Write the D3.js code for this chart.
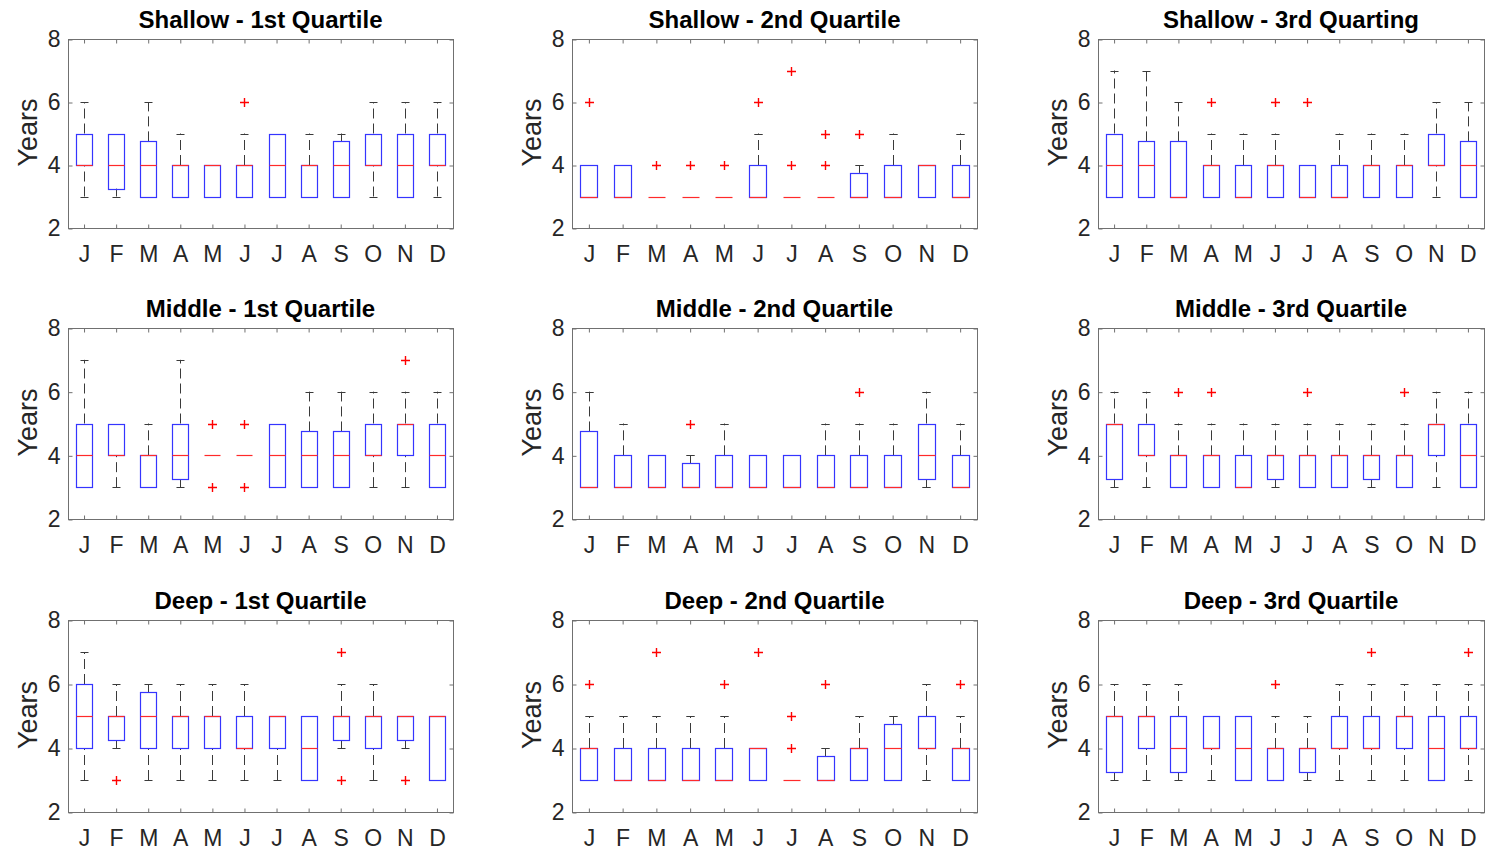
<!DOCTYPE html>
<html>
<head>
<meta charset="utf-8">
<script src="https://cdn.jsdelivr.net/npm/d3@7"></script>
<style>
  html, body { margin: 0; padding: 0; background: #ffffff; }
  svg { display: block; }
  text { font-family: "Liberation Sans", Arial, Helvetica, sans-serif; }
</style>
</head>
<body>
<svg id="chart" width="1486" height="858"></svg>
<script>
// ---------------- DATA ----------------
const monthLabels = ["J","F","M","A","M","J","J","A","S","O","N","D"];
const yTicks = [2, 4, 6, 8];
const panelTitles = [
  "Shallow - 1st Quartile", "Shallow - 2nd Quartile", "Shallow - 3rd Quarting",
  "Middle - 1st Quartile",  "Middle - 2nd Quartile",  "Middle - 3rd Quartile",
  "Deep - 1st Quartile",    "Deep - 2nd Quartile",    "Deep - 3rd Quartile"
];
// each month: [lower whisker, q1, median, q3, upper whisker]
const shallowQ1Stats = [[3,4,4,5,6],[3,3.25,4,5,5],[3,3,4,4.75,6],[3,3,4,4,5],[3,3,4,4,4],[3,3,4,4,5],[3,3,4,5,5],[3,3,4,4,5],[3,3,4,4.75,5],[3,4,4,5,6],[3,3,4,5,6],[3,4,4,5,6]];
const shallowQ1Outliers = [[],[],[],[],[],[6],[],[],[],[],[],[]];
const shallowQ2Stats = [[3,3,3,4,4],[3,3,3,4,4],[3,3,3,3,3],[3,3,3,3,3],[3,3,3,3,3],[3,3,3,4,5],[3,3,3,3,3],[3,3,3,3,3],[3,3,3,3.75,4],[3,3,3,4,5],[3,3,4,4,4],[3,3,3,4,5]];
const shallowQ2Outliers = [[6],[],[4],[4],[4],[6],[4,7],[4,5],[5],[],[],[]];
const shallowQ3Stats = [[3,3,4,5,7],[3,3,4,4.75,7],[3,3,3,4.75,6],[3,3,4,4,5],[3,3,3,4,5],[3,3,4,4,5],[3,3,3,4,4],[3,3,3,4,5],[3,3,4,4,5],[3,3,4,4,5],[3,4,4,5,6],[3,3,4,4.75,6]];
const shallowQ3Outliers = [[],[],[],[6],[],[6],[6],[],[],[],[],[]];
const middleQ1Stats = [[3,3,4,5,7],[3,4,4,5,5],[3,3,4,4,5],[3,3.25,4,5,7],[4,4,4,4,4],[4,4,4,4,4],[3,3,4,5,5],[3,3,4,4.75,6],[3,3,4,4.75,6],[3,4,4,5,6],[3,4,5,5,6],[3,3,4,5,6]];
const middleQ1Outliers = [[],[],[],[],[3,5],[3,5],[],[],[],[],[7],[]];
const middleQ2Stats = [[3,3,3,4.75,6],[3,3,3,4,5],[3,3,3,4,4],[3,3,3,3.75,4],[3,3,3,4,5],[3,3,3,4,4],[3,3,3,4,4],[3,3,3,4,5],[3,3,3,4,5],[3,3,3,4,5],[3,3.25,4,5,6],[3,3,3,4,5]];
const middleQ2Outliers = [[],[],[],[5],[],[],[],[],[6],[],[],[]];
const middleQ3Stats = [[3,3.25,5,5,6],[3,4,4,5,6],[3,3,4,4,5],[3,3,4,4,5],[3,3,3,4,5],[3,3.25,4,4,5],[3,3,4,4,5],[3,3,4,4,5],[3,3.25,4,4,5],[3,3,4,4,5],[3,4,5,5,6],[3,3,4,5,6]];
const middleQ3Outliers = [[],[],[6],[6],[],[],[6],[],[],[6],[],[]];
const deepQ1Stats = [[3,4,5,6,7],[4,4.25,5,5,6],[3,4,5,5.75,6],[3,4,5,5,6],[3,4,5,5,6],[3,4,4,5,6],[3,4,5,5,5],[3,3,4,5,5],[4,4.25,5,5,6],[3,4,5,5,6],[4,4.25,5,5,5],[3,3,5,5,5]];
const deepQ1Outliers = [[],[3],[],[],[],[],[],[],[3,7],[],[3],[]];
const deepQ2Stats = [[3,3,4,4,5],[3,3,3,4,5],[3,3,3,4,5],[3,3,3,4,5],[3,3,3,4,5],[3,3,4,4,4],[3,3,3,3,3],[3,3,3,3.75,4],[3,3,4,4,5],[3,3,4,4.75,5],[3,4,4,5,6],[3,3,4,4,5]];
const deepQ2Outliers = [[6],[],[7],[],[6],[7],[4,5],[6],[],[],[],[6]];
const deepQ3Stats = [[3,3.25,5,5,6],[3,4,5,5,6],[3,3.25,4,5,6],[3,4,4,5,5],[3,3,4,5,5],[3,3,4,4,5],[3,3.25,4,4,5],[3,4,4,5,6],[3,4,4,5,6],[3,4,5,5,6],[3,3,4,5,6],[3,4,4,5,6]];
const deepQ3Outliers = [[],[],[],[],[],[6],[],[],[7],[],[],[7]];

const panelStats = [shallowQ1Stats, shallowQ2Stats, shallowQ3Stats, middleQ1Stats, middleQ2Stats, middleQ3Stats, deepQ1Stats, deepQ2Stats, deepQ3Stats];
const panelOutliers = [shallowQ1Outliers, shallowQ2Outliers, shallowQ3Outliers, middleQ1Outliers, middleQ2Outliers, middleQ3Outliers, deepQ1Outliers, deepQ2Outliers, deepQ3Outliers];

// ---------------- LAYOUT ----------------
const colX = [[68, 453], [572, 977], [1098, 1484]];
const rowY = [[39, 228], [328, 519], [620, 812]];
const axisColor = "#707070";
const textColor = "#262626";
const boxColor = "#3535ff";
const medColor = "#ff2a2a";
const whiskerColor = "#3a3a3a";
const outlierColor = "#ff0000";

const svg = d3.select("#chart");

panelStats.forEach((stats, p) => {
  const [x0, x1] = colX[p % 3];
  const [y0, y1] = rowY[Math.floor(p / 3)];
  const outl = panelOutliers[p];

  const x = d3.scaleBand().domain(d3.range(12)).range([x0, x1]).paddingInner(0.5).paddingOuter(0.25);
  const y = d3.scaleLinear().domain([2, 8]).range([y1, y0]);
  const bw = x.bandwidth();
  const cx = i => Math.round(x(i) + bw / 2) + 0.5;
  const py = v => Math.round(y(v)) + 0.5;
  const cap = bw / 4;

  const g = svg.append("g");

  // frame
  g.append("rect")
    .attr("x", x0 + 0.5).attr("y", y0 + 0.5)
    .attr("width", x1 - x0).attr("height", y1 - y0)
    .attr("fill", "none").attr("stroke", axisColor).attr("stroke-width", 1);

  // axes
  const monthFmt = i => monthLabels[i];
  const bottom = g.append("g").attr("transform", `translate(0.5,${y1 + 0.5})`)
    .call(d3.axisBottom(x).tickSize(-4).tickSizeOuter(0).tickPadding(17).tickFormat(monthFmt));
  const top = g.append("g").attr("transform", `translate(0.5,${y0 + 0.5})`)
    .call(d3.axisTop(x).tickSize(-4).tickSizeOuter(0).tickFormat(""));
  const left = g.append("g").attr("transform", `translate(${x0 + 0.5},0.5)`)
    .call(d3.axisLeft(y).tickValues(yTicks).tickSize(-4).tickSizeOuter(0).tickPadding(8).tickFormat(d3.format("d")));
  const right = g.append("g").attr("transform", `translate(${x1 + 0.5},0.5)`)
    .call(d3.axisRight(y).tickValues(yTicks).tickSize(-4).tickSizeOuter(0).tickFormat(""));
  [bottom, top, left, right].forEach(a => {
    a.select(".domain").remove();
    a.selectAll(".tick line").attr("stroke", axisColor);
    a.selectAll("text").attr("fill", textColor).attr("font-size", 23)
      .attr("font-family", "'Liberation Sans', Arial, Helvetica, sans-serif");
  });

  // title
  g.append("text")
    .attr("x", (x0 + x1) / 2).attr("y", y0 - 11)
    .attr("text-anchor", "middle").attr("font-size", 24).attr("font-weight", "bold")
    .attr("fill", "#000").text(panelTitles[p]);

  // y label
  g.append("text")
    .attr("transform", `translate(${x0 - 31},${(y0 + y1) / 2 - 1}) rotate(-90)`)
    .attr("text-anchor", "middle").attr("font-size", 27).attr("fill", textColor)
    .text("Years");

  const idx = d3.range(12);

  // upper whiskers (drawn from q3 up to upper whisker)
  g.append("g").selectAll("line").data(idx.filter(i => stats[i][4] > stats[i][3])).join("line")
    .attr("x1", cx).attr("x2", cx)
    .attr("y1", i => y(stats[i][3])).attr("y2", i => y(stats[i][4]))
    .attr("stroke", whiskerColor).attr("stroke-dasharray", "10,5");
  // lower whiskers (drawn from lower whisker up to q1)
  g.append("g").selectAll("line").data(idx.filter(i => stats[i][0] < stats[i][1])).join("line")
    .attr("x1", cx).attr("x2", cx)
    .attr("y1", i => y(stats[i][0])).attr("y2", i => y(stats[i][1]))
    .attr("stroke", whiskerColor).attr("stroke-dasharray", "10,5");
  // whisker caps
  const capData = [];
  idx.forEach(i => { capData.push([i, stats[i][0]]); capData.push([i, stats[i][4]]); });
  g.append("g").selectAll("line").data(capData).join("line")
    .attr("x1", d => cx(d[0]) - cap).attr("x2", d => cx(d[0]) + cap)
    .attr("y1", d => py(d[1])).attr("y2", d => py(d[1]))
    .attr("stroke", whiskerColor);
  // boxes
  g.append("g").selectAll("rect").data(idx).join("rect")
    .attr("x", i => Math.round(x(i)) + 0.5)
    .attr("y", i => py(stats[i][3]))
    .attr("width", Math.round(bw))
    .attr("height", i => py(stats[i][1]) - py(stats[i][3]))
    .attr("fill", "none").attr("stroke", boxColor).attr("stroke-width", 1.2);
  // medians
  g.append("g").selectAll("line").data(idx).join("line")
    .attr("x1", i => Math.round(x(i)) + 0.5).attr("x2", i => Math.round(x(i)) + 0.5 + Math.round(bw))
    .attr("y1", i => py(stats[i][2])).attr("y2", i => py(stats[i][2]))
    .attr("stroke", medColor).attr("stroke-width", 1.2);
  // outliers
  const outData = [];
  idx.forEach(i => outl[i].forEach(v => outData.push([i, v])));
  g.append("g").selectAll("path").data(outData).join("path")
    .attr("d", d => {
      const c = cx(d[0]), oy = py(d[1]);
      return `M${c - 4.5},${oy}H${c + 4.5}M${c},${oy - 4.5}V${oy + 4.5}`;
    })
    .attr("stroke", outlierColor).attr("stroke-width", 1.4).attr("fill", "none");
});
</script>
</body>
</html>
